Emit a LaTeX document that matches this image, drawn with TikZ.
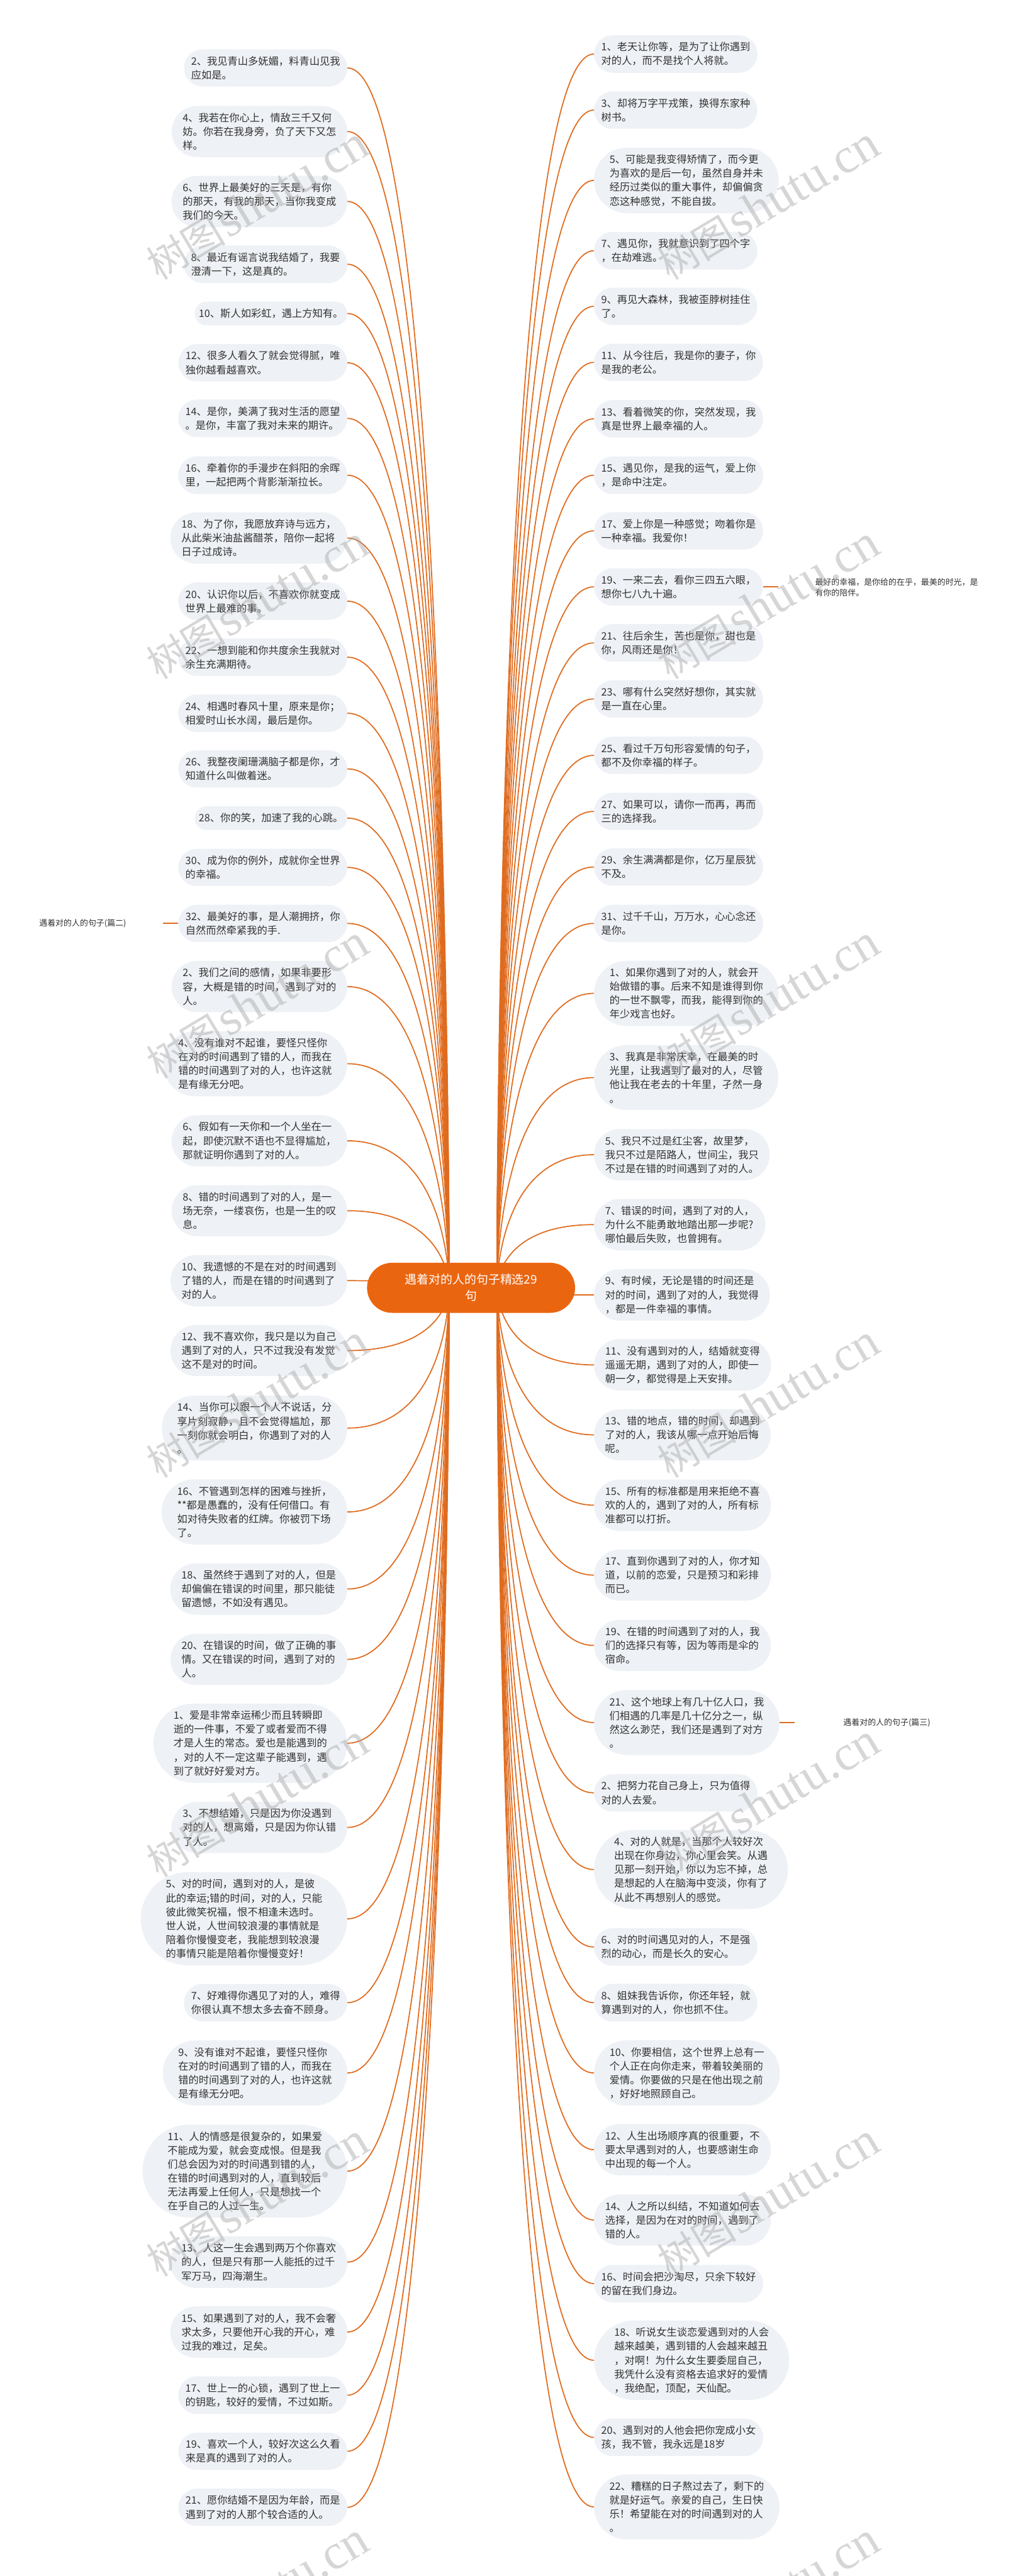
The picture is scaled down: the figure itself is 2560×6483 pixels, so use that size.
\documentclass[tikz,border=0pt]{standalone}
\usepackage{fontspec}
\setmainfont{Noto Sans CJK SC}
\newfontfamily\wmlatin{Liberation Serif}
\usetikzlibrary{shapes.misc}
\definecolor{nodefill}{HTML}{EEF1F5}
\definecolor{txt}{HTML}{333333}
\definecolor{mainor}{HTML}{EA6510}
\definecolor{linec}{HTML}{DF6B1E}
\pgfdeclarelayer{bg}
\pgfdeclarelayer{fg}
\pgfsetlayers{bg,main,fg}
\tikzset{
  lnode/.style={rounded rectangle, fill=nodefill, text=txt, font=\fontsize{10.3pt}{14pt}\selectfont, align=left, inner xsep=3pt, inner ysep=7pt, anchor=east},
  rnode/.style={lnode, anchor=west},
  cnode/.style={rounded rectangle, fill=mainor, text=white, font=\fontsize{12pt}{16.5pt}\selectfont, align=center, minimum width=216pt, minimum height=50.4pt, inner ysep=8pt},
  conn/.style={draw=linec, line width=1.1pt},
  small/.style={text=txt, font=\fontsize{8.2pt}{10.8pt}\selectfont, align=left, inner sep=0pt},
  wm/.style={text=gray!70, opacity=0.45, rotate=31, inner sep=0pt}
}
\newcommand\Lnode[3]{\node[lnode] (#1) at (874,#2) {#3};}
\newcommand\Rnode[3]{\node[rnode] (#1) at (1494,#2) {#3};}
\newcommand\wmark[2]{\node[wm] at (#1,#2) {{\fontsize{40pt}{40pt}\selectfont 树图} {\wmlatin\fontsize{50pt}{50pt}\selectfont shutu.cn}};}
\begin{document}
\begin{tikzpicture}[x=0.4pt,y=-0.4pt]
\useasboundingbox (0,0) rectangle (2560,6483);
\begin{pgfonlayer}{bg}
\fill[white] (0,0) rectangle (2560,6483);
\end{pgfonlayer}

\node[cnode] (C) at (1185,3241) {遇着对的人的句子精选29\\句};
\coordinate (PL) at (1130,3241);
\coordinate (PR) at (1250,3241);

% left column
\Lnode{L1}{171}{2、我见青山多妩媚，料青山见我\\应如是。}
\Lnode{L2}{331}{4、我若在你心上，情敌三千又何\\妨。你若在我身旁，负了天下又怎\\样。}
\Lnode{L3}{507}{6、世界上最美好的三天是，有你\\的那天，有我的那天，当你我变成\\我们的今天。}
\Lnode{L4}{665}{8、最近有谣言说我结婚了，我要\\澄清一下，这是真的。}
\Lnode{L5}{789}{10、斯人如彩虹，遇上方知有。}
\Lnode{L6}{913}{12、很多人看久了就会觉得腻，唯\\独你越看越喜欢。}
\Lnode{L7}{1053}{14、是你，美满了我对生活的愿望\\。是你，丰富了我对未来的期许。}
\Lnode{L8}{1196}{16、牵着你的手漫步在斜阳的余晖\\里，一起把两个背影渐渐拉长。}
\Lnode{L9}{1354}{18、为了你，我愿放弃诗与远方，\\从此柴米油盐酱醋茶，陪你一起将\\日子过成诗。}
\Lnode{L10}{1513}{20、认识你以后，不喜欢你就变成\\世界上最难的事。}
\Lnode{L11}{1654}{22、一想到能和你共度余生我就对\\余生充满期待。}
\Lnode{L12}{1795}{24、相遇时春风十里，原来是你；\\相爱时山长水阔，最后是你。}
\Lnode{L13}{1935}{26、我整夜阑珊满脑子都是你，才\\知道什么叫做着迷。}
\Lnode{L14}{2059}{28、你的笑，加速了我的心跳。}
\Lnode{L15}{2183}{30、成为你的例外，成就你全世界\\的幸福。}
\Lnode{L16}{2324}{32、最美好的事，是人潮拥挤，你\\自然而然牵紧我的手.}
\Lnode{L17}{2483}{2、我们之间的感情，如果非要形\\容，大概是错的时间，遇到了对的\\人。}
\Lnode{L18}{2677}{4、没有谁对不起谁，要怪只怪你\\在对的时间遇到了错的人，而我在\\错的时间遇到了对的人，也许这就\\是有缘无分吧。}
\Lnode{L19}{2871}{6、假如有一天你和一个人坐在一\\起，即使沉默不语也不显得尴尬，\\那就证明你遇到了对的人。}
\Lnode{L20}{3047}{8、错的时间遇到了对的人，是一\\场无奈，一缕哀伤，也是一生的叹\\息。}
\Lnode{L21}{3223}{10、我遗憾的不是在对的时间遇到\\了错的人，而是在错的时间遇到了\\对的人。}
\Lnode{L22}{3399}{12、我不喜欢你，我只是以为自己\\遇到了对的人，只不过我没有发觉\\这不是对的时间。}
\Lnode{L23}{3594}{14、当你可以跟一个人不说话，分\\享片刻寂静，且不会觉得尴尬，那\\一刻你就会明白，你遇到了对的人\\。}
\Lnode{L24}{3805}{16、不管遇到怎样的困难与挫折，\\**都是愚蠢的，没有任何借口。有\\如对待失败者的红牌。你被罚下场\\了。}
\Lnode{L25}{3999}{18、虽然终于遇到了对的人，但是\\却偏偏在错误的时间里，那只能徒\\留遗憾，不如没有遇见。}
\Lnode{L26}{4176}{20、在错误的时间，做了正确的事\\情。又在错误的时间，遇到了对的\\人。}
\Lnode{L27}{4387}{1、爱是非常幸运稀少而且转瞬即\\逝的一件事，不爱了或者爱而不得\\才是人生的常态。爱也是能遇到的\\，对的人不一定这辈子能遇到，遇\\到了就好好爱对方。}
\Lnode{L28}{4599}{3、不想结婚，只是因为你没遇到\\对的人，想离婚，只是因为你认错\\了人。}
\Lnode{L29}{4829}{5、对的时间，遇到对的人，是彼\\此的幸运;错的时间，对的人，只能\\彼此微笑祝福，恨不相逢未选时。\\世人说，人世间较浪漫的事情就是\\陪着你慢慢变老，我能想到较浪漫\\的事情只能是陪着你慢慢变好！}
\Lnode{L30}{5040}{7、好难得你遇见了对的人，难得\\你很认真不想太多去奋不顾身。}
\Lnode{L31}{5217}{9、没有谁对不起谁，要怪只怪你\\在对的时间遇到了错的人，而我在\\错的时间遇到了对的人，也许这就\\是有缘无分吧。}
\Lnode{L32}{5464}{11、人的情感是很复杂的，如果爱\\不能成为爱，就会变成恨。但是我\\们总会因为对的时间遇到错的人，\\在错的时间遇到对的人，直到较后\\无法再爱上任何人，只是想找一个\\在乎自己的人过一生。}
\Lnode{L33}{5693}{13、人这一生会遇到两万个你喜欢\\的人，但是只有那一人能抵的过千\\军万马，四海潮生。}
\Lnode{L34}{5869}{15、如果遇到了对的人，我不会奢\\求太多，只要他开心我的开心，难\\过我的难过，足矣。}
\Lnode{L35}{6028}{17、世上一的心锁，遇到了世上一\\的钥匙，较好的爱情，不过如斯。}
\Lnode{L36}{6169}{19、喜欢一个人，较好次这么久看\\来是真的遇到了对的人。}
\Lnode{L37}{6310}{21、愿你结婚不是因为年龄，而是\\遇到了对的人那个较合适的人。}

% right column
\Rnode{R1}{136}{1、老天让你等，是为了让你遇到\\对的人，而不是找个人将就。}
\Rnode{R2}{277}{3、却将万字平戎策，换得东家种\\树书。}
\Rnode{R3}{454}{5、可能是我变得矫情了，而今更\\为喜欢的是后一句，虽然自身并未\\经历过类似的重大事件，却偏偏贪\\恋这种感觉，不能自拔。}
\Rnode{R4}{631}{7、遇见你，我就意识到了四个字\\，在劫难逃。}
\Rnode{R5}{771}{9、再见大森林，我被歪脖树挂住\\了。}
\Rnode{R6}{912}{11、从今往后，我是你的妻子，你\\是我的老公。}
\Rnode{R7}{1054}{13、看着微笑的你，突然发现，我\\真是世界上最幸福的人。}
\Rnode{R8}{1196}{15、遇见你，是我的运气，爱上你\\，是命中注定。}
\Rnode{R9}{1336}{17、爱上你是一种感觉；吻着你是\\一种幸福。我爱你！}
\Rnode{R10}{1477}{19、一来二去，看你三四五六眼，\\想你七八九十遍。}
\Rnode{R11}{1618}{21、往后余生，苦也是你，甜也是\\你，风雨还是你！}
\Rnode{R12}{1759}{23、哪有什么突然好想你，其实就\\是一直在心里。}
\Rnode{R13}{1901}{25、看过千万句形容爱情的句子，\\都不及你幸福的样子。}
\Rnode{R14}{2042}{27、如果可以，请你一而再，再而\\三的选择我。}
\Rnode{R15}{2182}{29、余生满满都是你，亿万星辰犹\\不及。}
\Rnode{R16}{2324}{31、过千千山，万万水，心心念还\\是你。}
\Rnode{R17}{2500}{1、如果你遇到了对的人，就会开\\始做错的事。后来不知是谁得到你\\的一世不飘零，而我，能得到你的\\年少戏言也好。}
\Rnode{R18}{2712}{3、我真是非常庆幸，在最美的时\\光里，让我遇到了最对的人，尽管\\他让我在老去的十年里，孑然一身\\。}
\Rnode{R19}{2906}{5、我只不过是红尘客，故里梦，\\我只不过是陌路人，世间尘，我只\\不过是在错的时间遇到了对的人。}
\Rnode{R20}{3082}{7、错误的时间，遇到了对的人，\\为什么不能勇敢地踏出那一步呢?\\哪怕最后失败，也曾拥有。}
\Rnode{R21}{3259}{9、有时候，无论是错的时间还是\\对的时间，遇到了对的人，我觉得\\，都是一件幸福的事情。}
\Rnode{R22}{3435}{11、没有遇到对的人，结婚就变得\\遥遥无期，遇到了对的人，即使一\\朝一夕，都觉得是上天安排。}
\Rnode{R23}{3611}{13、错的地点，错的时间，却遇到\\了对的人，我该从哪一点开始后悔\\呢。}
\Rnode{R24}{3788}{15、所有的标准都是用来拒绝不喜\\欢的人的，遇到了对的人，所有标\\准都可以打折。}
\Rnode{R25}{3964}{17、直到你遇到了对的人，你才知\\道，以前的恋爱，只是预习和彩排\\而已。}
\Rnode{R26}{4141}{19、在错的时间遇到了对的人，我\\们的选择只有等，因为等雨是伞的\\宿命。}
\Rnode{R27}{4335}{21、这个地球上有几十亿人口，我\\们相遇的几率是几十亿分之一，纵\\然这么渺茫，我们还是遇到了对方\\。}
\Rnode{R28}{4512}{2、把努力花自己身上，只为值得\\对的人去爱。}
\Rnode{R29}{4705}{4、对的人就是，当那个人较好次\\出现在你身边，你心里会笑。从遇\\见那一刻开始，你以为忘不掉，总\\是想起的人在脑海中变淡，你有了\\从此不再想别人的感觉。}
\Rnode{R30}{4900}{6、对的时间遇见对的人，不是强\\烈的动心，而是长久的安心。}
\Rnode{R31}{5040}{8、姐妹我告诉你，你还年轻，就\\算遇到对的人，你也抓不住。}
\Rnode{R32}{5217}{10、你要相信，这个世界上总有一\\个人正在向你走来，带着较美丽的\\爱情。你要做的只是在他出现之前\\，好好地照顾自己。}
\Rnode{R33}{5410}{12、人生出场顺序真的很重要，不\\要太早遇到对的人，也要感谢生命\\中出现的每一个人。}
\Rnode{R34}{5587}{14、人之所以纠结，不知道如何去\\选择，是因为在对的时间，遇到了\\错的人。}
\Rnode{R35}{5747}{16、时间会把沙淘尽，只余下较好\\的留在我们身边。}
\Rnode{R36}{5940}{18、听说女生谈恋爱遇到对的人会\\越来越美，遇到错的人会越来越丑\\，对啊！为什么女生要委屈自己，\\我凭什么没有资格去追求好的爱情\\，我绝配，顶配，天仙配。}
\Rnode{R37}{6134}{20、遇到对的人他会把你宠成小女\\孩，我不管，我永远是18岁}
\Rnode{R38}{6309}{22、糟糕的日子熬过去了，剩下的\\就是好运气。亲爱的自己，生日快\\乐！希望能在对的时间遇到对的人\\。}

% small leaf labels
\node[small, anchor=east] (L16c) at (318,2324) {遇着对的人的句子(篇二)};
\node[small, anchor=west] (R10c) at (2050,1478) {最好的幸福，是你给的在乎，最美的时光，是\\有你的陪伴。};
\node[small, anchor=west] (R27c) at (2121,4335) {遇着对的人的句子(篇三)};

\begin{pgfonlayer}{bg}
\foreach \i in {1,...,37} {
  \draw[conn] (L\i.east) .. controls (PL |- L\i.east) and (PL) .. (PL);
}
\foreach \i in {1,...,38} {
  \draw[conn] (PR) .. controls (PR) and (PR |- R\i.west) .. (R\i.west);
}
\draw[conn] (L16.west) -- ([xshift=-15pt]L16.west);
\draw[conn] (R10.east) -- ([xshift=15pt]R10.east);
\draw[conn] (R27.east) -- ([xshift=15pt]R27.east);
\end{pgfonlayer}

\begin{pgfonlayer}{fg}
\foreach \yy in {512,1517,2522,3527,4532,5537,6542} {
  \wmark{647}{\yy}
  \wmark{1932}{\yy}
}
\end{pgfonlayer}
\end{tikzpicture}
\end{document}
